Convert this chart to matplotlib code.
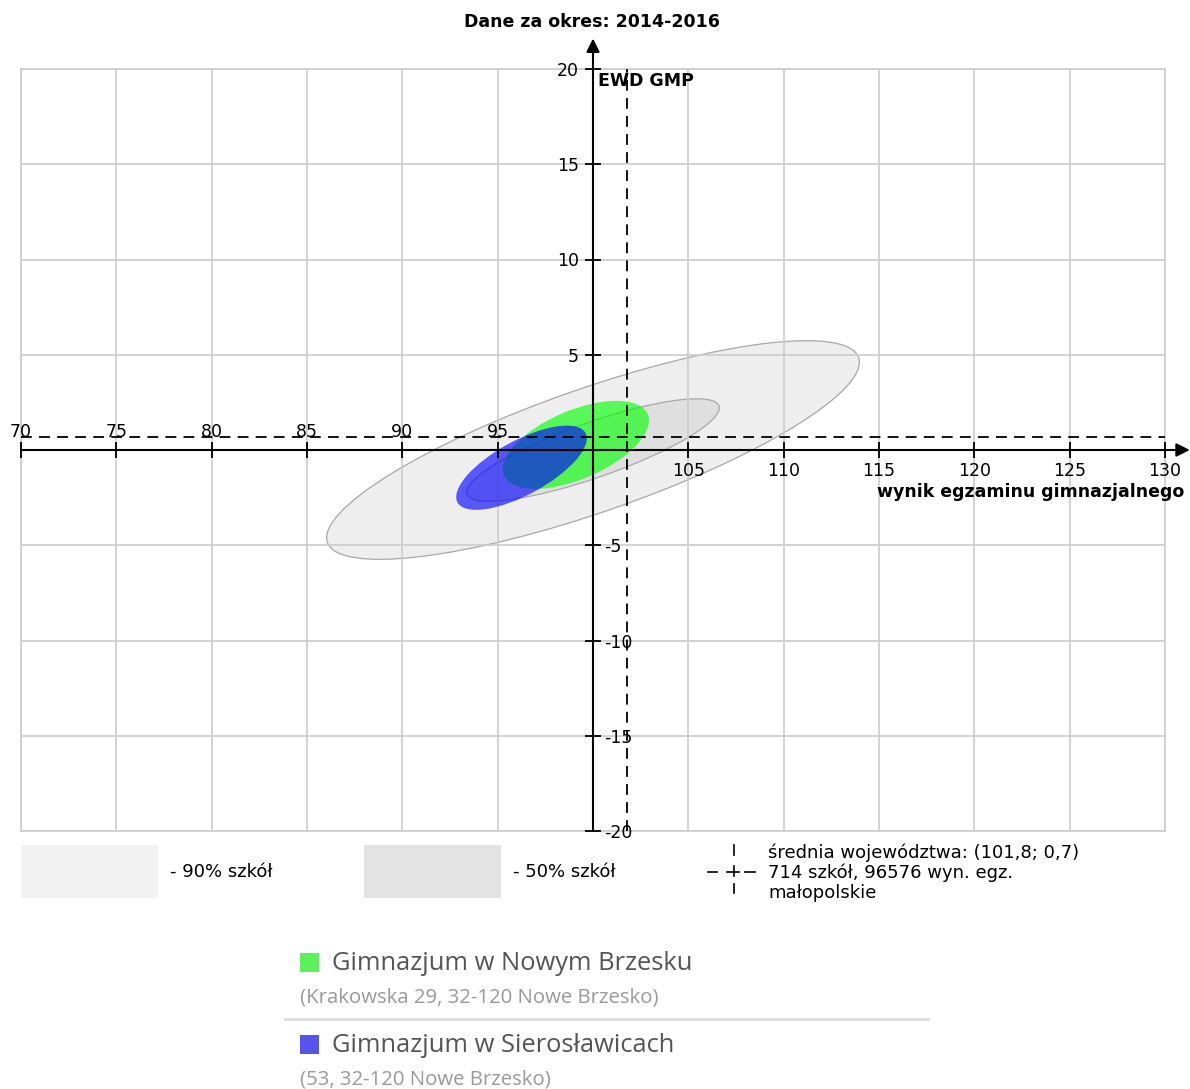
import numpy as np
import matplotlib
matplotlib.use("Agg")
import matplotlib.pyplot as plt
from matplotlib.patches import Ellipse, Rectangle
from matplotlib.lines import Line2D

# --- dane ---
title = "Dane za okres: 2014-2016"
x_label = "wynik egzaminu gimnazjalnego"
y_label = "EWD GMP"
x_ticks = [70, 75, 80, 85, 90, 95, 100, 105, 110, 115, 120, 125, 130]
y_ticks = [-20, -15, -10, -5, 5, 10, 15, 20]
mean_x, mean_y = 101.8, 0.7

# elipsy: srodek (x, y), szerokosc, wysokosc, kat
ell90 = (100.0, 0.0, 29.5, 6.5, 19.2)
ell50 = (100.0, 0.0, 14.0, 2.9, 19.3)
schools = ["Gimnazjum w Nowym Brzesku", "Gimnazjum w Sierosławicach"]
addresses = ["(Krakowska 29, 32-120 Nowe Brzesko)", "(53, 32-120 Nowe Brzesko)"]
school_ell = [(99.1, 0.27, 8.2, 3.6, 23.1),
              (96.25, -0.93, 7.64, 2.85, 28.5)]
school_colors = ["#00ff00", "#0000ff"]
legend_colors = ["#5cf05c", "#5555ee"]
mean_lines = ["średnia województwa: (101,8; 0,7)",
              "714 szkół, 96576 wyn. egz.",
              "małopolskie"]

W, H = 1190, 1089
fig = plt.figure(figsize=(W / 100, H / 100), dpi=100)


def fx(px):
    return px / W


def fy(py):
    return 1 - py / H


def seg(x0, y0, x1, y1, **kw):
    fig.add_artist(Line2D([fx(x0), fx(x1)], [fy(y0), fy(y1)],
                          transform=fig.transFigure, **kw))


ax = fig.add_axes([fx(21), fy(831), fx(1165) - fx(21), fy(69) - fy(831)])
ax.set_xlim(70, 130)
ax.set_ylim(-20, 20)
ax.set_xticks(range(70, 131, 5))
ax.set_yticks(range(-20, 21, 5))
ax.tick_params(length=0, labelbottom=False, labelleft=False)
ax.grid(True, color="#cccccc", lw=1.2, zorder=2)
ax.set_axisbelow(False)
for s in ax.spines.values():
    s.set_color("#cccccc")
    s.set_linewidth(1.2)

# elipsy szarych stref
for (cx, cy, w, h, a), fc in [(ell90, "#eeeeee"), (ell50, "#dfdfdf")]:
    ax.add_patch(Ellipse((cx, cy), w, h, angle=a, facecolor=fc,
                         edgecolor="#a8a8a8", lw=0.9, zorder=1))

# elipsy szkol
for (cx, cy, w, h, a), c in zip(school_ell, school_colors):
    ax.add_patch(Ellipse((cx, cy), w, h, angle=a, facecolor=c,
                         edgecolor="none", alpha=0.63, zorder=3))

# srednia wojewodztwa
ax.plot([70, 130], [mean_y, mean_y], color="k", lw=1.3, ls=(0, (6, 4)), zorder=4)
ax.plot([mean_x, mean_x], [-20, 20], color="k", lw=1.3, ls=(0, (6, 4)), zorder=4)

# osie ze strzalkami
arrow = dict(arrowstyle="-|>", color="k", lw=1.5, mutation_scale=20,
             shrinkA=0, shrinkB=0)
ax.annotate("", xy=(131.3, 0), xytext=(70, 0), arrowprops=arrow,
            annotation_clip=False, zorder=5)
ax.annotate("", xy=(100, 21.6), xytext=(100, -20), arrowprops=arrow,
            annotation_clip=False, zorder=5)

ax.plot(x_ticks, [0] * len(x_ticks), "|", color="k", ms=12, mew=1.3,
        clip_on=False, zorder=5)
ax.plot([100] * len(y_ticks), y_ticks, "_", color="k", ms=12, mew=1.3,
        clip_on=False, zorder=5)

fs = 12.5
for v in x_ticks:
    if v < 100:
        ax.annotate(str(v), (v, 0), xytext=(0, 13), textcoords="offset pixels",
                    ha="center", va="baseline", fontsize=fs, zorder=6)
    elif v > 100:
        ax.annotate(str(v), (v, 0), xytext=(0, -12), textcoords="offset pixels",
                    ha="center", va="top", fontsize=fs, zorder=6)
for v in y_ticks:
    if v > 0:
        ax.annotate(str(v), (100, v), xytext=(-14, 0), textcoords="offset pixels",
                    ha="right", va="center_baseline", fontsize=fs, zorder=6)
    else:
        ax.annotate(str(v), (100, v), xytext=(11, 0), textcoords="offset pixels",
                    ha="left", va="center_baseline", fontsize=fs, zorder=6)

fig.text(fx(592), fy(22), title, ha="center", va="center", fontsize=12.5,
         fontweight="bold")
fig.text(fx(598), fy(81), y_label, ha="left", va="center", fontsize=12.5,
         fontweight="bold")
fig.text(fx(1184), fy(492), x_label, ha="right", va="center", fontsize=12.5,
         fontweight="bold")

# legenda stref
fig.patches.append(Rectangle((fx(21), fy(898)), fx(137), fy(845) - fy(898),
                             transform=fig.transFigure, facecolor="#f2f2f2",
                             edgecolor="none"))
fig.patches.append(Rectangle((fx(364), fy(898)), fx(137), fy(845) - fy(898),
                             transform=fig.transFigure, facecolor="#e3e3e3",
                             edgecolor="none"))
fig.text(fx(170), fy(872), "- 90% szkół", ha="left", va="center", fontsize=13)
fig.text(fx(513), fy(872), "- 50% szkół", ha="left", va="center", fontsize=13)

# symbol sredniej
lk = dict(color="k", lw=1.2)
seg(708, 871.5, 717, 871.5, **lk)
seg(727, 871.5, 739, 871.5, **lk)
seg(745, 871.5, 755, 871.5, **lk)
seg(734, 845, 734, 855, **lk)
seg(734, 866, 734, 876, **lk)
seg(734, 884, 734, 893, **lk)
for i, t in enumerate(mean_lines):
    fig.text(fx(768), fy(853 + 20 * i), t, ha="left", va="center", fontsize=13)

# legenda szkol
seg(285, 1019, 928, 1019, color="#dddddd", lw=2)
for i, (name, addr, c) in enumerate(zip(schools, addresses, legend_colors)):
    top = 953 + 82 * i
    fig.patches.append(Rectangle((fx(300), fy(top + 19)), fx(19), fy(top) - fy(top + 19),
                                 transform=fig.transFigure, facecolor=c,
                                 edgecolor="none"))
    fig.text(fx(332), fy(top + 11), name, ha="left", va="center",
             fontsize=18.4, family="Open Sans", color="#555555")
    fig.text(fx(300), fy(top + 44), addr, ha="left", va="center",
             fontsize=14.7, family="Open Sans", color="#9a9a9a")

fig.savefig("out.png", dpi=100)
